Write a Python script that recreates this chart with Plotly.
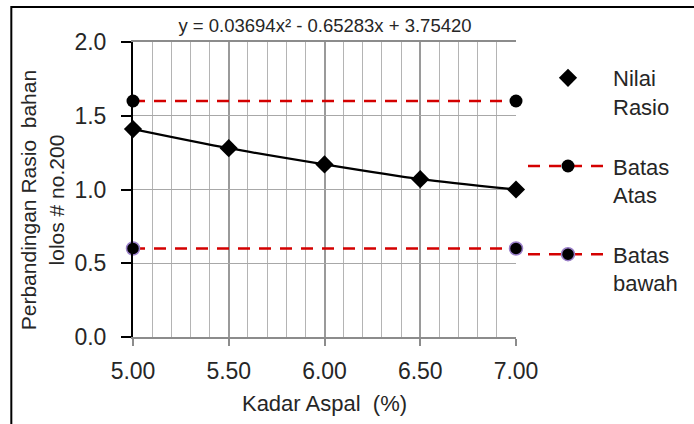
import plotly.graph_objects as go

kadar = [5.00, 5.50, 6.00, 6.50, 7.00]
nilai_rasio = [1.41, 1.28, 1.17, 1.07, 1.00]
batas_x = [5.00, 7.00]
batas_atas = [1.6, 1.6]
batas_bawah = [0.6, 0.6]
x_ticks = [5.0, 5.5, 6.0, 6.5, 7.0]
x_ticklabels = ["5.00", "5.50", "6.00", "6.50", "7.00"]
y_ticks = [0.0, 0.5, 1.0, 1.5, 2.0]
y_ticklabels = ["0.0", "0.5", "1.0", "1.5", "2.0"]
title_text = "y = 0.03694x² - 0.65283x + 3.75420"
y_title = "Perbandingan Rasio  bahan<br>lolos # no.200"
x_title = "Kadar Aspal  (%)"

FONT = "Liberation Sans, Arial, sans-serif"
RED = "#d40000"
TXT = "#262626"

fig = go.Figure()

# trendline through the measured points (no legend entry)
fig.add_trace(go.Scatter(x=kadar, y=nilai_rasio, mode="lines",
                         line=dict(color="black", width=2.2, shape="spline", smoothing=0.8),
                         showlegend=False, hoverinfo="skip", cliponaxis=False))

fig.add_trace(go.Scatter(x=batas_x, y=batas_atas, mode="lines+markers", name="Batas<br>Atas",
                         legendgroup="b", legendrank=2, cliponaxis=False,
                         line=dict(color=RED, width=2.5, dash="12px,9px"),
                         marker=dict(symbol="circle", size=13, color="black")))

fig.add_trace(go.Scatter(x=batas_x, y=batas_bawah, mode="lines+markers", name="Batas<br>bawah",
                         legendgroup="c", legendrank=3, cliponaxis=False,
                         line=dict(color=RED, width=2.5, dash="12px,9px"),
                         marker=dict(symbol="circle", size=13, color="black",
                                     line=dict(color="#9a7fc8", width=1.5))))

fig.add_trace(go.Scatter(x=kadar, y=nilai_rasio, mode="markers", name="Nilai<br>Rasio",
                         legendgroup="a", legendrank=1, cliponaxis=False,
                         marker=dict(symbol="diamond", size=14, color="black")))

fig.update_layout(
    width=694, height=424,
    margin=dict(l=133, r=177, t=42, b=87),
    paper_bgcolor="white", plot_bgcolor="white",
    font=dict(family=FONT, size=23, color=TXT),
    title=dict(text=title_text, x=325 / 694, xanchor="center", y=1 - 26 / 424, yanchor="middle",
               font=dict(family=FONT, size=18.5, color=TXT)),
    legend=dict(x=(523 - 133) / 384, xanchor="left", y=(337 - 57) / 295, yanchor="top",
                traceorder="grouped", tracegroupgap=28, itemwidth=80, valign="top",
                font=dict(family=FONT, size=22, color=TXT), bgcolor="rgba(0,0,0,0)"),
    xaxis=dict(range=[5.0, 7.0], tickvals=x_ticks, ticktext=x_ticklabels,
               showline=True, linecolor="#8c8c8c", linewidth=2, mirror=True,
               ticks="outside", ticklen=7, tickwidth=2, tickcolor="#8c8c8c",
               ticklabelstandoff=5,
               showgrid=True, gridcolor="#9a9a9a", gridwidth=2,
               minor=dict(dtick=0.1, showgrid=True, gridcolor="#b4b4b4", gridwidth=1, ticks=""),
               zeroline=False,
               title=dict(text=x_title, standoff=13, font=dict(size=22))),
    yaxis=dict(range=[0.0, 2.0], tickvals=y_ticks, ticktext=y_ticklabels,
               showline=True, linecolor="black", linewidth=2,
               ticks="outside", ticklen=10, tickwidth=1.5, tickcolor="black",
               ticklabelstandoff=10,
               showgrid=True, gridcolor="#a8a8a8", gridwidth=1, zeroline=False),
)

# y-axis title as a rotated annotation for exact placement
fig.add_annotation(text=y_title, xref="paper", yref="paper",
                   x=(42 - 133) / 384, y=(337 - 200) / 295, xanchor="center", yanchor="middle",
                   textangle=-90, showarrow=False, align="center",
                   font=dict(family=FONT, size=21, color=TXT))

# outer chart frame
fig.add_shape(type="rect", xref="paper", yref="paper",
              x0=(11 - 133) / 384, x1=(720 - 133) / 384,
              y0=(337 - 450) / 295, y1=(337 - 7) / 295,
              line=dict(color="black", width=2), layer="below")

fig.write_html("out.html")
